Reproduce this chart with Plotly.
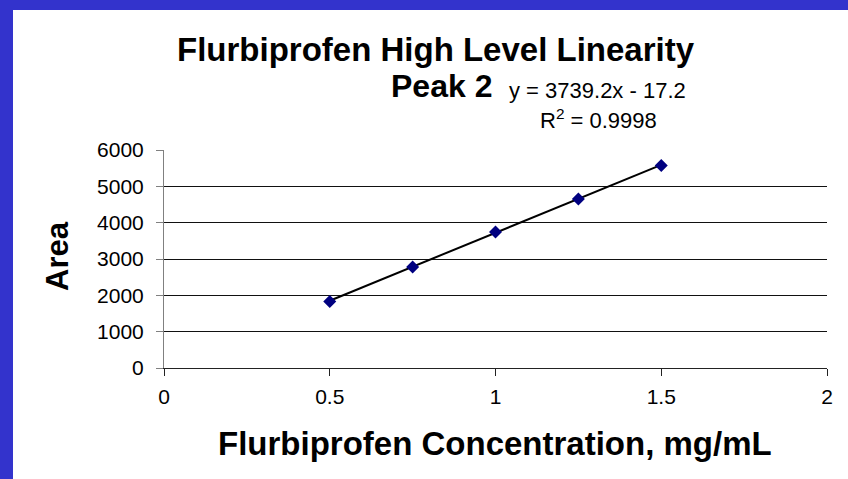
import numpy as np
import plotly.graph_objects as go

# data
conc = [0.5, 0.75, 1.0, 1.25, 1.5]
area = [1830, 2780, 3745, 4650, 5570]

# Excel trendline as printed on the chart
slope = 3739.2
intercept = -17.2
eq_text = "y = 3739.2x - 17.2"
r2_text = "R<sup>2</sup> = 0.9998"

x_ticks = [0, 0.5, 1, 1.5, 2]
y_ticks = [0, 1000, 2000, 3000, 4000, 5000, 6000]

FONT = "Liberation Sans, Arial, sans-serif"
W, H = 848, 479
L, R, T, B = 164, 21, 150, 111
pw, ph = W - L - R, H - T - B


# pixel -> paper helpers for text placement
def px(x):
    return (x - L) / pw


def py(y):
    return (H - B - y) / ph


trend_x = np.array([min(conc), max(conc)])
trend_y = slope * trend_x + intercept

fig = go.Figure()
fig.add_trace(go.Scatter(x=trend_x, y=trend_y, mode='lines',
                         line=dict(color='black', width=2), hoverinfo='skip'))
fig.add_trace(go.Scatter(x=conc, y=area, mode='markers',
                         marker=dict(symbol='diamond', size=10, color='#000080',
                                     line=dict(width=0))))

fig.update_xaxes(range=[0, 2], tickvals=x_ticks, showgrid=False, zeroline=False,
                 showline=True, linecolor='#222', linewidth=1,
                 ticks='outside', ticklen=7, tickcolor='#222',
                 ticklabelstandoff=3,
                 tickfont=dict(family=FONT, size=21, color='black'))
fig.update_yaxes(range=[0, 6000], tickvals=y_ticks, showgrid=True, gridcolor='#111',
                 gridwidth=1, zeroline=False, showline=True, linecolor='#808080',
                 linewidth=1, ticks='outside', ticklen=7, tickcolor='#808080',
                 ticklabelstandoff=8,
                 tickfont=dict(family=FONT, size=21, color='black'))

ann = [
    dict(text="<b>Flurbiprofen High Level Linearity</b>", x=px(436), y=py(49),
         font=dict(size=33)),
    dict(text="<b>Peak 2</b>", x=px(441), y=py(86), font=dict(size=32)),
    dict(text=eq_text, x=px(597), y=py(90), font=dict(size=22)),
    dict(text=r2_text, x=px(598), y=py(119), font=dict(size=22)),
    dict(text="<b>Flurbiprofen Concentration, mg/mL</b>", x=px(495), y=py(443),
         font=dict(size=33)),
    dict(text="<b>Area</b>", x=px(57), y=py(256), font=dict(size=31), textangle=-90),
]
for a in ann:
    a.update(xref='paper', yref='paper', showarrow=False,
             xanchor='center', yanchor='middle')
    a['font'].update(family=FONT, color='black')
fig.update_layout(annotations=ann)

# blue frame strips on the left and top
blue = '#3333CC'
fig.add_shape(type='rect', xref='paper', yref='paper', layer='below',
              x0=px(0), x1=px(13), y0=py(H), y1=py(0), fillcolor=blue, line_width=0)
fig.add_shape(type='rect', xref='paper', yref='paper', layer='below',
              x0=px(0), x1=px(W), y0=py(10), y1=py(0), fillcolor=blue, line_width=0)

fig.update_layout(width=W, height=H, margin=dict(l=L, r=R, t=T, b=B),
                  paper_bgcolor='white', plot_bgcolor='white', showlegend=False)
# drop the browser's default body margin so the figure sits at 0,0
fig.write_html("out.html", config={'displayModeBar': False},
               post_script="document.body.style.margin='0';")
